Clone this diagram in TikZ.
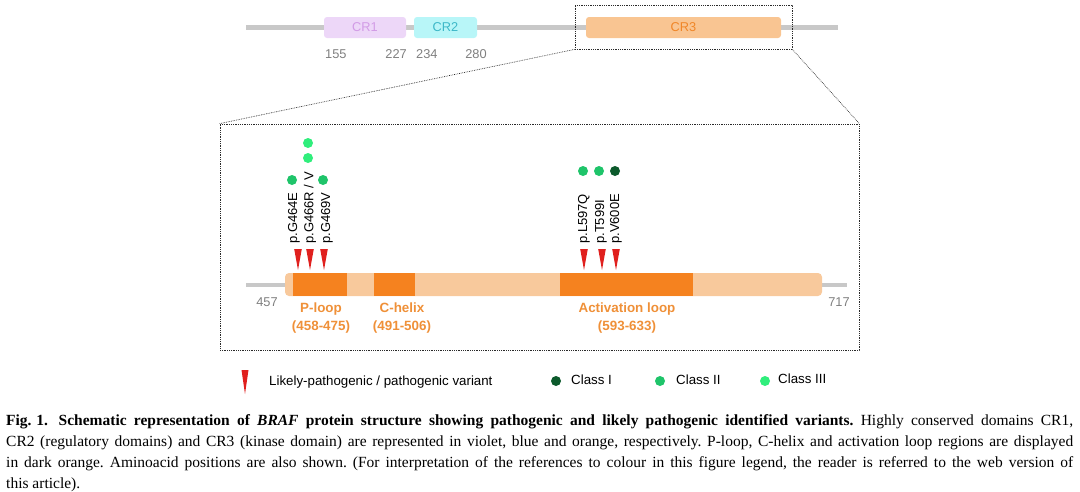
\documentclass[tikz,border=0pt]{standalone}
\usepackage{fontspec}
\setmainfont{Liberation Serif}
\newfontfamily\arialf{Liberation Sans}
\definecolor{barGray}{HTML}{C8C8C8}
\definecolor{numGray}{HTML}{7F7F7F}
\definecolor{crOneFill}{HTML}{EDD7F8}
\definecolor{crOneText}{HTML}{D29BE6}
\definecolor{crTwoFill}{HTML}{B8F6F8}
\definecolor{crTwoText}{HTML}{3DB8C8}
\definecolor{crThreeFill}{HTML}{F9C592}
\definecolor{crThreeText}{HTML}{F08628}
\definecolor{lightOr}{HTML}{F8C99C}
\definecolor{darkOr}{HTML}{F5821F}
\definecolor{labOr}{HTML}{EF9038}
\definecolor{varRed}{HTML}{E0201E}
\definecolor{classOne}{HTML}{0C5A2C}
\definecolor{classTwo}{HTML}{1FC46A}
\definecolor{classThree}{HTML}{30EE7C}
\definecolor{boxLine}{HTML}{2A2A2A}
\tikzset{
  crbox/.style={rounded corners=3pt, minimum height=21pt, inner sep=0pt, font=\arialf\fontsize{12.8}{14}\selectfont},
  numlab/.style={text=numGray, inner sep=0pt, font=\arialf\fontsize{12.8}{14}\selectfont},
  zoombox/.style={draw=boxLine, densely dotted, line width=0.8pt, inner sep=0pt},
  zoomline/.style={draw=boxLine, densely dotted, line width=0.7pt},
  backbone/.style={barGray, line width=5pt},
  stub/.style={barGray, line width=4.5pt},
  regionlab/.style={text=labOr, align=center, inner sep=0pt, font=\arialf\bfseries\fontsize{13.4}{18}\selectfont},
  varlab/.style={rotate=90, anchor=west, inner sep=0pt, font=\arialf\fontsize{13}{14}\selectfont},
  dotc/.style={circle, minimum size=10pt, inner sep=0pt},
  leglab/.style={anchor=west, inner sep=0pt, font=\arialf\fontsize{13.3}{15}\selectfont},
  caplab/.style={anchor=base west, inner sep=0pt, font=\fontsize{15.5}{17}\selectfont}
}
\newcommand\varTri[2]{\fill[varRed] (#1-3.8,#2) -- (#1+3.8,#2) -- (#1,#2+21) -- cycle;}
\newcommand\capline[1]{\hbox to 1067pt{\frenchspacing\spaceskip=0.25em plus 1em minus 0.1em #1}}
\begin{document}
\begin{tikzpicture}[x=1pt,y=-1pt]
\useasboundingbox (0,0) rectangle (1080,491);
% top overview
\draw[backbone] (246,27.5) -- (838,27.5);
\node[crbox, fill=crOneFill, text=crOneText, minimum width=82pt] (cr1) at (365,27.5) {CR1};
\node[crbox, fill=crTwoFill, text=crTwoText, minimum width=63pt] (cr2) at (445.5,27.5) {CR2};
\node[crbox, fill=crThreeFill, text=crThreeText, minimum width=195pt] (cr3) at (683.5,27.5) {CR3};
\node[numlab, anchor=west] (n155) at (325,54) {155};
\node[numlab, anchor=east] (n227) at (407,54) {227};
\node[numlab, anchor=west] (n234) at (416,54) {234};
\node[numlab] (n280) at (476,54) {280};
% zoom boxes
\node[zoombox, minimum width=217pt, minimum height=44pt] (zsmall) at (683.5,27) {};
\node[zoombox, minimum width=639pt, minimum height=226pt] (zbig) at (539.5,237) {};
\draw[zoomline] (zsmall.south west) -- (zbig.north west);
\draw[zoomline] (zsmall.south east) -- (zbig.north east);
% kinase domain bar
\draw[stub] (246,285) -- (286,285);
\draw[stub] (821,285) -- (847,285);
\fill[lightOr, rounded corners=4pt] (285,273) rectangle (822,296);
\fill[darkOr] (293,273) rectangle (347,296);
\fill[darkOr] (374,273) rectangle (415,296);
\fill[darkOr] (560,273) rectangle (693,296);
\node[numlab] (n457) at (267,302) {457};
\node[numlab] (n717) at (839,302) {717};
\node[regionlab, anchor=north] (ploop) at (321,303) {P-loop\\(458-475)};
\node[regionlab, anchor=north] (chelix) at (402,303) {C-helix\\(491-506)};
\node[regionlab, anchor=north] (aloop) at (627,303) {Activation loop\\(593-633)};
% variants
\varTri{298}{249}
\varTri{310}{249}
\varTri{324}{249}
\varTri{584}{249}
\varTri{602}{249}
\varTri{616}{249}
\node[varlab] (v464) at (294,244) {p.G464E};
\node[varlab] (v466) at (310,244) {p.G466R / V};
\node[varlab] (v469) at (327,244) {p.G469V};
\node[varlab] (v597) at (584,244) {p.L597Q};
\node[varlab] (v599) at (601,244) {p.T599I};
\node[varlab] (v600) at (616,244) {p.V600E};
\node[dotc, fill=classTwo] (d464) at (292,180) {};
\node[dotc, fill=classThree] (d466a) at (308,143) {};
\node[dotc, fill=classThree] (d466b) at (308,158) {};
\node[dotc, fill=classTwo] (d469) at (323,180) {};
\node[dotc, fill=classTwo] (d597) at (583,171) {};
\node[dotc, fill=classTwo] (d599) at (599,171) {};
\node[dotc, fill=classOne] (d600) at (615,171) {};
% legend
\fill[varRed] (241.5,370) -- (248.5,370) -- (245,394) -- cycle;
\node[leglab] (lvar) at (269,382) {Likely-pathogenic / pathogenic variant};
\node[dotc, fill=classOne] (lc1) at (556,381) {};
\node[leglab] (lt1) at (571,380) {Class I};
\node[dotc, fill=classTwo] (lc2) at (660,381) {};
\node[leglab] (lt2) at (676,380) {Class II};
\node[dotc, fill=classThree] (lc3) at (765,381) {};
\node[leglab] (lt3) at (778,379) {Class III};
% caption
\node[caplab] (cap1) at (6,425) {\capline{\textbf{Fig.\hspace{0.3em}1.\hspace{0.7em}Schematic representation of \textit{BRAF} protein structure showing pathogenic and likely pathogenic identified variants.} Highly conserved domains CR1,}};
\node[caplab] (cap2) at (6,446) {\capline{CR2 (regulatory domains) and CR3 (kinase domain) are represented in violet, blue and orange, respectively. P-loop, C-helix and activation loop regions are displayed}};
\node[caplab] (cap3) at (6,467) {\capline{in dark orange. Aminoacid positions are also shown. (For interpretation of the references to colour in this figure legend, the reader is referred to the web version of}};
\node[caplab] (cap4) at (6,488) {this article).};
\end{tikzpicture}
\end{document}
